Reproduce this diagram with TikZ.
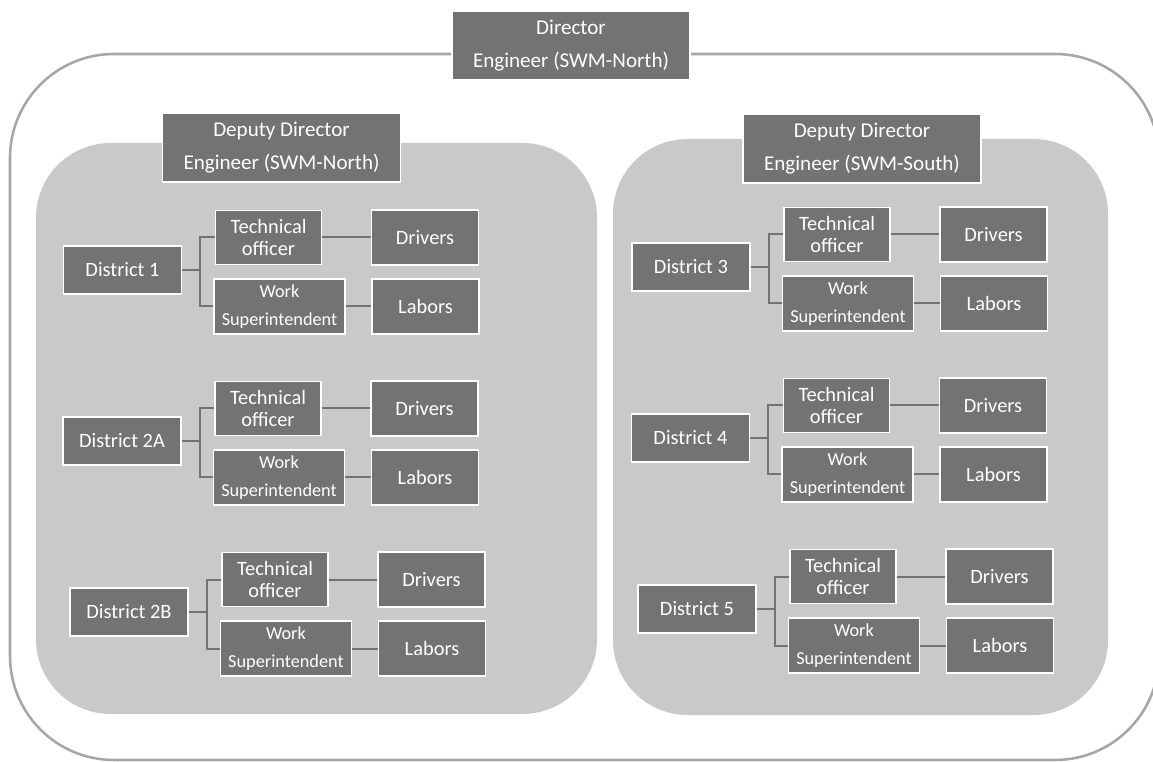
\documentclass[tikz,border=0pt]{standalone}
\usepackage{fontspec}
\setmainfont{Carlito}
\definecolor{boxgray}{HTML}{737373}
\definecolor{panelgray}{HTML}{C9C9C9}
\definecolor{rimgray}{HTML}{A6A6A6}
\tikzset{
  box/.style={draw=white, line width=1.1pt, fill=boxgray, text=white, inner sep=0pt,
    align=center, font=\fontsize{15.3}{16.8}\selectfont},
  headbox/.style={box, minimum width=178.5pt, minimum height=51.75pt,
    font=\fontsize{15.8}{25}\selectfont},
  distbox/.style={box, minimum width=88.5pt, minimum height=36pt},
  techbox/.style={box, minimum width=79.5pt, minimum height=40.5pt},
  workbox/.style={box, minimum width=98.25pt, minimum height=41.25pt,
    font=\fontsize{13.7}{20.5}\selectfont},
  staffbox/.style={box, minimum width=80.25pt, minimum height=41.25pt},
  link/.style={draw=boxgray, line width=1.5pt},
}
\begin{document}
\begin{tikzpicture}[x=0.75pt,y=-0.75pt]
  \useasboundingbox (0,0) rectangle (1153,762);
  \fill[white] (0,0) rectangle (1153,762);
  \clip (0,0) rectangle (1153,762);
  % outer frame and the two panels
  \draw[rimgray, line width=1.9pt, rounded corners=78pt] (10,54) rectangle (1159,760);
  \fill[panelgray, rounded corners=56pt] (36,143) rectangle (597,714);
  \fill[panelgray, rounded corners=56pt] (613,139) rectangle (1108,715);
  \node[headbox] (dir) at (571,45.5) {Director\\Engineer (SWM-North)};
  \node[headbox] (depn) at (281.5,147.5) {Deputy Director\\Engineer (SWM-North)};
  \node[headbox] (deps) at (862,148.5) {Deputy Director\\Engineer (SWM-South)};
  % one district with its staff
  \foreach \n/\x/\y/\t in {1/122.5/270/1, 2a/122/441/2A, 2b/129/612/2B,
      3/691/267/3, 4/690.5/438/4, 5/697/609/5}{
    \node[distbox] (d\n) at (\x,\y) {District \t};
    \node[techbox] (to\n) at (\x+146,\y-32.5) {Technical\\officer};
    \node[workbox] (ws\n) at (\x+157,\y+36.5) {Work\\Superintendent};
    \node[staffbox] (dr\n) at (\x+302.5,\y-32.5) {Drivers};
    \node[staffbox] (lb\n) at (\x+303,\y+36.5) {Labors};
    \coordinate (j\n) at (\x+77.5,\y);
    \draw[link] (d\n.east) -- (j\n);
    \draw[link] (to\n.west) -| (j\n) |- (ws\n.west);
    \draw[link] (to\n) -- (dr\n);
    \draw[link] (ws\n) -- (lb\n);
  }
\end{tikzpicture}
\end{document}
